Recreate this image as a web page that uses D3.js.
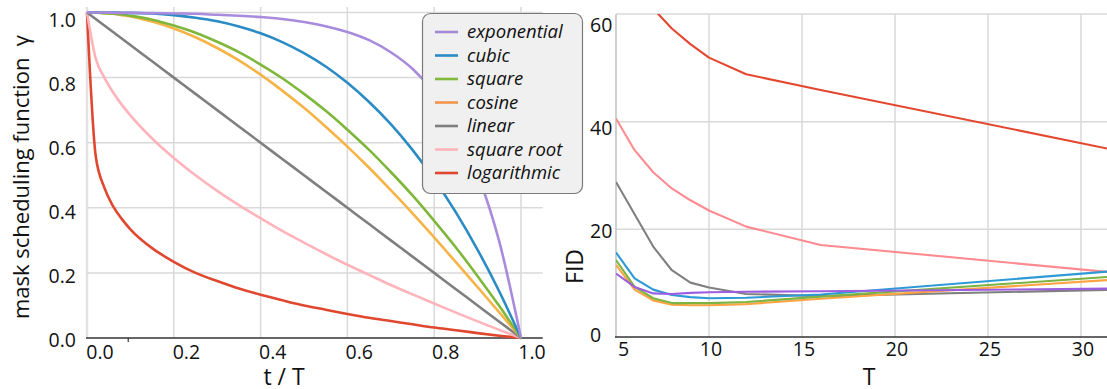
<!DOCTYPE html>
<html>
<head>
<meta charset="utf-8">
<script src="https://cdn.jsdelivr.net/npm/d3@7"></script>
<style>
  html, body { margin: 0; padding: 0; background: #fff; }
  svg { display: block; font-family: "Open Sans", "DejaVu Sans", sans-serif; }
  .grid { stroke: #d9d9d9; stroke-width: 1.5; }
  .tick-label { font-size: 19.5px; fill: #111; }
  .axis-title { fill: #111; }
  .legend-text { font-size: 18.5px; font-style: italic; fill: #111; }
</style>
</head>
<body>
<script>
// mask scheduling curves (left panel)
const tFrac = [0, 0.02, 0.04, 0.06, 0.08, 0.1, 0.15, 0.2, 0.25, 0.3, 0.35, 0.4, 0.45, 0.5,
               0.55, 0.6, 0.65, 0.7, 0.75, 0.8, 0.85, 0.9, 0.95, 1];
const gammaExponential = [1, 1, 1, 0.999, 0.999, 0.999, 0.998, 0.997, 0.996, 0.993, 0.990, 0.986,
                          0.980, 0.971, 0.958, 0.940, 0.915, 0.878, 0.827, 0.754, 0.651, 0.504, 0.296, 0];
const gammaCubic = [1, 1, 1, 1, 0.999, 0.999, 0.997, 0.992, 0.984, 0.973, 0.957, 0.936,
                    0.909, 0.875, 0.834, 0.784, 0.725, 0.657, 0.578, 0.488, 0.386, 0.271, 0.143, 0];
const gammaSquare = [1, 1, 0.998, 0.996, 0.994, 0.99, 0.978, 0.96, 0.938, 0.91, 0.878, 0.84,
                     0.798, 0.75, 0.698, 0.64, 0.578, 0.51, 0.438, 0.36, 0.278, 0.19, 0.098, 0];
const gammaCosine = [1, 1, 0.998, 0.996, 0.992, 0.988, 0.972, 0.951, 0.924, 0.891, 0.853, 0.809,
                     0.760, 0.707, 0.649, 0.588, 0.523, 0.454, 0.383, 0.309, 0.233, 0.156, 0.079, 0];
const gammaLinear = [1, 0.98, 0.96, 0.94, 0.92, 0.9, 0.85, 0.8, 0.75, 0.7, 0.65, 0.6,
                     0.55, 0.5, 0.45, 0.4, 0.35, 0.3, 0.25, 0.2, 0.15, 0.1, 0.05, 0];
const gammaSqrt = [1, 0.859, 0.8, 0.755, 0.717, 0.684, 0.613, 0.553, 0.5, 0.452, 0.408, 0.368,
                   0.329, 0.293, 0.258, 0.225, 0.194, 0.163, 0.134, 0.106, 0.078, 0.051, 0.025, 0];
const gammaLog = [1, 0.56, 0.462, 0.405, 0.366, 0.334, 0.276, 0.234, 0.20, 0.175, 0.152, 0.133,
                  0.116, 0.100, 0.087, 0.074, 0.062, 0.052, 0.042, 0.032, 0.024, 0.015, 0.007, 0];

// FID vs number of steps T (right panel)
const stepsT = [5, 6, 7, 8, 9, 10, 12, 16, 32];
const fidExponential = [11.8, 9.3, 8.1, 8.0, 8.2, 8.3, 8.4, 8.5, 9.0];
const fidCubic = [15.7, 10.9, 8.8, 7.8, 7.4, 7.2, 7.3, 7.9, 12.3];
const fidSquare = [14.3, 9.3, 7.2, 6.3, 6.3, 6.3, 6.5, 7.5, 11.3];
const fidCosine = [13.4, 8.8, 6.8, 6.0, 5.9, 5.9, 6.1, 7.1, 10.7];
const fidLinear = [28.8, 22.8, 16.8, 12.4, 10.1, 9.2, 8.0, 7.6, 8.8];
const fidSqrt = [40.6, 34.7, 30.6, 27.6, 25.4, 23.5, 20.5, 17.1, 11.9];
const fidLog = [70, 65, 61.0, 57.3, 54.4, 51.9, 48.8, 45.9, 34.6];

const scheduleNames = ["exponential", "cubic", "square", "cosine", "linear", "square root", "logarithmic"];
const gammaSeries = [gammaExponential, gammaCubic, gammaSquare, gammaCosine, gammaLinear, gammaSqrt, gammaLog];
const fidSeries = [fidExponential, fidCubic, fidSquare, fidCosine, fidLinear, fidSqrt, fidLog];

const xTicksLeft = [0, 0.2, 0.4, 0.6, 0.8, 1.0];
const yTicksLeft = [0, 0.2, 0.4, 0.6, 0.8, 1.0];
const xTicksRight = [5, 10, 15, 20, 25, 30];
const yTicksRight = [0, 20, 40, 60];

// colours (left panel is a bit lighter than the right one)
const leftColors = ["#a88bdc", "#2b8bc5", "#7fb73b", "#f6b446", "#7f7f7f", "#ffb3ba", "#e0472f"];
const legendColors = ["#a48ad6", "#2a8bc5", "#82b83c", "#f5944a", "#7f7f7f", "#ffb3ba", "#e0472f"];
const rightColors = ["#9c5ee0", "#2e9ad5", "#7cb342", "#ffa343", "#808080", "#ff8a90", "#e4472f"];

const W = 1107, H = 389;
const svg = d3.select("body").append("svg")
    .attr("width", W)
    .attr("height", H);

// ---------- left panel ----------
let xL = d3.scaleLinear().domain([0, 1]).range([87, 521]);
let yL = d3.scaleLinear().domain([0, 1]).range([338, 12.5]);
// tick labels sit slightly off the grid in the original
let xLabL = d3.scaleLinear().domain([0, 1]).range([100, 532]);
let yLabL = d3.scaleLinear().domain([0, 1]).range([339.5, 19.5]);

let left = svg.append("g");

left.selectAll(".vgrid")
    .data(xTicksLeft)
    .join("line")
    .attr("class", "grid")
    .attr("x1", d => xL(d)).attr("x2", d => xL(d))
    .attr("y1", 7).attr("y2", yL(0))
    .style("stroke", d => d === 0 ? "#e2e2e2" : null)
    .style("stroke-width", d => d === 0 ? 2.5 : null);

left.selectAll(".hgrid")
    .data(yTicksLeft.filter(d => d > 0))
    .join("line")
    .attr("class", "grid")
    .attr("x1", xL(0)).attr("x2", xL(1.05))
    .attr("y1", d => yL(d)).attr("y2", d => yL(d));

// bottom axis line + the stray minor tick
left.append("line")
    .attr("x1", xL(0) - 1).attr("x2", xL(1.05))
    .attr("y1", yL(0)).attr("y2", yL(0))
    .attr("stroke", "#333").attr("stroke-width", 1.6);
left.append("line")
    .attr("x1", xL(0.095)).attr("x2", xL(0.095))
    .attr("y1", yL(0)).attr("y2", yL(0) + 4)
    .attr("stroke", "#333").attr("stroke-width", 1.2);

let lineL = d3.line()
    .x((d, i) => xL(tFrac[i]))
    .y(d => yL(d))
    .curve(d3.curveMonotoneX);

// draw so that exponential ends up on top
d3.range(gammaSeries.length).reverse().forEach(k => {
    left.append("path")
        .datum(gammaSeries[k])
        .attr("fill", "none")
        .attr("stroke", leftColors[k])
        .attr("stroke-width", 2.6)
        .attr("stroke-linejoin", "round")
        .attr("d", lineL);
});

left.selectAll(".ylab")
    .data(yTicksLeft)
    .join("text")
    .attr("class", "tick-label")
    .attr("text-anchor", "end")
    .attr("x", 76)
    .attr("y", d => yLabL(d))
    .attr("dy", "0.36em")
    .text(d3.format(".1f"));

left.selectAll(".xlab")
    .data(xTicksLeft)
    .join("text")
    .attr("class", "tick-label")
    .attr("text-anchor", "middle")
    .attr("x", d => xLabL(d))
    .attr("y", 359)
    .text(d3.format(".1f"));

left.append("text")
    .attr("class", "axis-title")
    .attr("transform", "translate(29,177) rotate(-90)")
    .attr("text-anchor", "middle")
    .style("font-size", "22px")
    .text("mask scheduling function \u00a0\u03b3");

left.append("text")
    .attr("class", "axis-title")
    .attr("x", 284).attr("y", 385)
    .attr("text-anchor", "middle")
    .style("font-size", "23px")
    .text("t / T");

// legend
let legend = svg.append("g");
legend.append("rect")
    .attr("x", 422.5).attr("y", 13.5)
    .attr("width", 160).attr("height", 180)
    .attr("rx", 8)
    .attr("fill", "#f0f0f0")
    .attr("stroke", "#7a7a7a")
    .attr("stroke-width", 1.2);

let rows = legend.selectAll(".row")
    .data(scheduleNames)
    .join("g")
    .attr("transform", (d, i) => `translate(0,${32 + i * 23.5})`);
rows.append("line")
    .attr("x1", 435).attr("x2", 458)
    .attr("stroke", (d, i) => legendColors[i])
    .attr("stroke-width", 2.6);
rows.append("text")
    .attr("class", "legend-text")
    .attr("x", 467)
    .attr("dy", "0.35em")
    .text(d => d);

// ---------- right panel ----------
let xR = d3.scaleLinear().domain([5, 30]).range([616, 1081]);
let yR = d3.scaleLinear().domain([0, 60]).range([337, 14]);
let yLabR = d3.scaleLinear().domain([0, 60]).range([334.5, 24.5]);

let right = svg.append("g");

right.append("clipPath")
    .attr("id", "clipR")
    .append("rect")
    .attr("x", xR(5)).attr("y", yR(60))
    .attr("width", W - xR(5)).attr("height", yR(0) - yR(60));

right.selectAll(".vgrid")
    .data(xTicksRight.filter(d => d > 5))
    .join("line")
    .attr("class", "grid")
    .attr("x1", d => xR(d)).attr("x2", d => xR(d))
    .attr("y1", yR(60)).attr("y2", yR(0));

right.selectAll(".hgrid")
    .data(yTicksRight.filter(d => d > 0))
    .join("line")
    .attr("class", "grid")
    .attr("x1", xR(5)).attr("x2", W)
    .attr("y1", d => yR(d)).attr("y2", d => yR(d));

// left spine (light) and bottom axis (dark)
right.append("line")
    .attr("x1", xR(5)).attr("x2", xR(5))
    .attr("y1", yR(60)).attr("y2", yR(0))
    .attr("stroke", "#c4c4c4").attr("stroke-width", 1.6);
right.append("line")
    .attr("x1", xR(5) - 1).attr("x2", W)
    .attr("y1", yR(0)).attr("y2", yR(0))
    .attr("stroke", "#333").attr("stroke-width", 1.6);

let lineR = d3.line()
    .x((d, i) => xR(stepsT[i]))
    .y(d => yR(d));

let linesR = right.append("g").attr("clip-path", "url(#clipR)");
[6, 5, 4, 3, 2, 1, 0].forEach(k => {
    linesR.append("path")
        .datum(fidSeries[k])
        .attr("fill", "none")
        .attr("stroke", rightColors[k])
        .attr("stroke-width", 2.1)
        .attr("stroke-linejoin", "round")
        .attr("d", lineR);
});

right.selectAll(".ylab")
    .data(yTicksRight)
    .join("text")
    .attr("class", "tick-label")
    .attr("text-anchor", "start")
    .attr("x", 590)
    .attr("y", d => yLabR(d))
    .attr("dy", "0.36em")
    .text(d => d);

right.selectAll(".xlab")
    .data(xTicksRight)
    .join("text")
    .attr("class", "tick-label")
    .attr("text-anchor", d => d === 5 ? "start" : "middle")
    .attr("x", d => xR(d) + 2)
    .attr("y", 356)
    .text(d => d);

right.append("text")
    .attr("class", "axis-title")
    .attr("transform", "translate(583,266.5) rotate(-90)")
    .attr("text-anchor", "middle")
    .style("font-size", "23px")
    .text("FID");

right.append("text")
    .attr("class", "axis-title")
    .attr("x", 869).attr("y", 385)
    .attr("text-anchor", "middle")
    .style("font-size", "23px")
    .text("T");
</script>
</body>
</html>
